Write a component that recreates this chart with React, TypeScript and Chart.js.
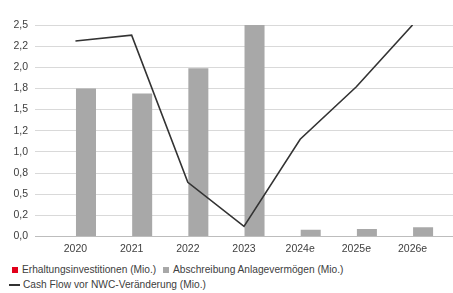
import React, { useEffect, useRef } from "react";
import { Chart, registerables } from "chart.js";

Chart.register(...registerables);

const categories = ["2020", "2021", "2022", "2023", "2024e", "2025e", "2026e"];
const erhaltungsinvestitionen = [0, 0, 0, 0, 0, 0, 0];
const abschreibung = [1.75, 1.69, 1.99, 2.5, 0.08, 0.09, 0.11];
const cashFlow = [2.31, 2.38, 0.64, 0.12, 1.15, 1.77, 2.5];
const yTickLabels = ["0,0", "0,2", "0,5", "0,8", "1,0", "1,2", "1,5", "1,8", "2,0", "2,2", "2,5"];

const legendLabels = [
  "Erhaltungsinvestitionen (Mio.)",
  "Abschreibung Anlagevermögen (Mio.)",
  "Cash Flow vor NWC-Veränderung (Mio.)",
];

const FONT = "'Liberation Sans', Arial, sans-serif";
const TEXT = "#404040";
const RED = "#e2001a";
const GRAY = "#a8a8a8";
const LINE = "#333333";

export default function App() {
  const ref = useRef<HTMLCanvasElement | null>(null);

  useEffect(() => {
    if (!ref.current) return;
    const pts = (arr: number[]) => arr.map((v, i) => ({ x: i, y: v }));
    const chart = new Chart(ref.current, {
      type: "bar",
      data: {
        datasets: [
          {
            type: "line",
            label: legendLabels[2],
            data: pts(cashFlow),
            borderColor: LINE,
            borderWidth: 1.6,
            pointRadius: 0,
            tension: 0,
            fill: false,
            order: 0,
          } as any,
          {
            label: legendLabels[0],
            data: pts(erhaltungsinvestitionen),
            backgroundColor: RED,
            borderWidth: 0,
            order: 1,
          },
          {
            label: legendLabels[1],
            data: pts(abschreibung),
            backgroundColor: GRAY,
            borderWidth: 0,
            order: 2,
          },
        ],
      },
      options: {
        animation: false,
        responsive: false,
        devicePixelRatio: 1,
        datasets: { bar: { categoryPercentage: 0.75, barPercentage: 0.95 } },
        layout: { padding: { top: 25, right: 0, left: 0, bottom: 0 } },
        plugins: { legend: { display: false }, tooltip: { enabled: false } },
        scales: {
          x: {
            type: "linear",
            offset: false,
            min: -0.72,
            max: 6.72,
            grid: { display: false, drawTicks: false },
            border: { display: true, color: "#bdbdbd", width: 1 },
            ticks: {
              stepSize: 1,
              includeBounds: false,
              autoSkip: false,
              maxRotation: 0,
              padding: 6,
              color: TEXT,
              font: { family: FONT, size: 10.5 },
              callback: (v: any) => (Number.isInteger(v) ? categories[v] ?? "" : ""),
            },
            afterFit: (s: any) => {
              s.height = 21.5;
            },
          },
          y: {
            min: 0,
            max: 2.5,
            grid: { color: "#d9d9d9", lineWidth: 1, drawTicks: false },
            border: { display: false },
            ticks: {
              stepSize: 0.25,
              padding: 7,
              color: TEXT,
              font: { family: FONT, size: 10.5 },
              callback: (_v: any, i: number) => yTickLabels[i] ?? "",
            },
            afterFit: (s: any) => {
              s.width = 35;
            },
          },
        },
      },
    });
    return () => chart.destroy();
  }, []);

  const txt: React.CSSProperties = {
    position: "absolute",
    fontFamily: FONT,
    fontSize: 10.2,
    color: TEXT,
    lineHeight: "12px",
    whiteSpace: "nowrap",
  };

  return (
    <div style={{ position: "fixed", left: 0, top: 0, width: 453, height: 293, background: "#fff", overflow: "hidden" }}>
      <canvas ref={ref} width={453} height={258} style={{ display: "block" }} />
      <div style={{ position: "absolute", left: 12, top: 267, width: 6, height: 6, background: RED }} />
      <div style={{ ...txt, left: 22, top: 264 }}>{legendLabels[0]}</div>
      <div style={{ position: "absolute", left: 163, top: 267, width: 6, height: 6, background: GRAY }} />
      <div style={{ ...txt, left: 173, top: 264 }}>{legendLabels[1]}</div>
      <div style={{ position: "absolute", left: 9, top: 284, width: 11, height: 1.5, background: LINE }} />
      <div style={{ ...txt, left: 23, top: 279 }}>{legendLabels[2]}</div>
    </div>
  );
}
